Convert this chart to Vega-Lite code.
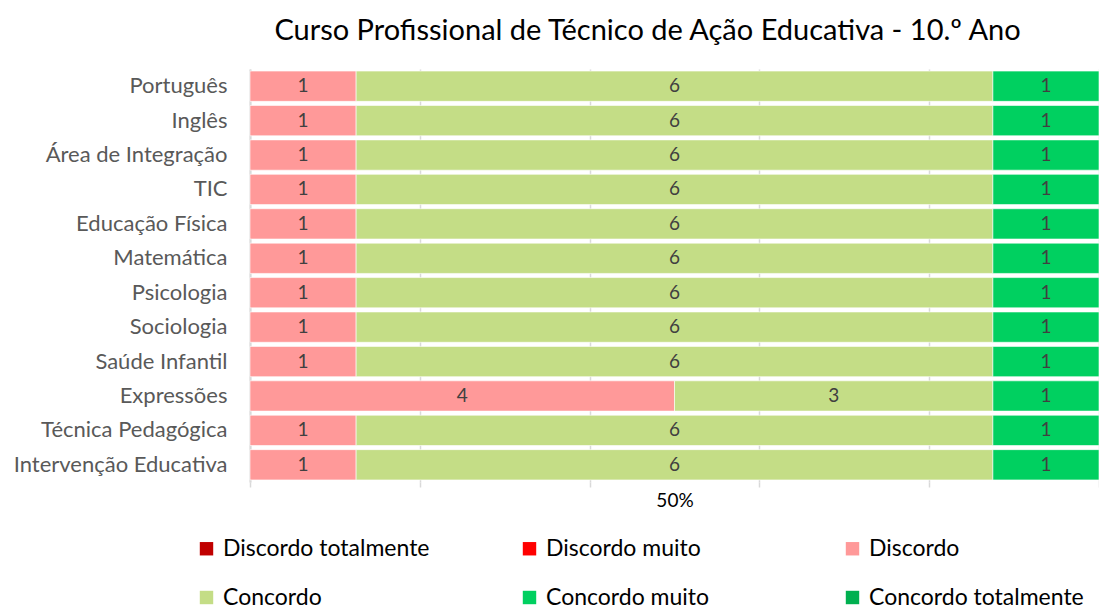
{
  "$schema": "https://vega.github.io/schema/vega-lite/v6.json",
  "autosize": {"type": "none"},
  "width": 849,
  "height": 413,
  "padding": {"left": 250, "top": 69, "right": 0, "bottom": 127},
  "background": "white",
  "config": {"font": "Lato", "view": {"stroke": null}},
  "title": {
    "text": "Curso Profissional de Técnico de Ação Educativa - 10.º Ano",
    "fontSize": 29,
    "fontWeight": "normal",
    "color": "#000000",
    "anchor": "middle",
    "dx": -27,
    "offset": 23
  },
  "data": {
    "values": [
      {"disciplina": "Português", "resposta": "Discordo", "nivel": 3, "n": 1},
      {"disciplina": "Português", "resposta": "Concordo", "nivel": 4, "n": 6},
      {"disciplina": "Português", "resposta": "Concordo muito", "nivel": 5, "n": 1},
      {"disciplina": "Inglês", "resposta": "Discordo", "nivel": 3, "n": 1},
      {"disciplina": "Inglês", "resposta": "Concordo", "nivel": 4, "n": 6},
      {"disciplina": "Inglês", "resposta": "Concordo muito", "nivel": 5, "n": 1},
      {"disciplina": "Área de Integração", "resposta": "Discordo", "nivel": 3, "n": 1},
      {"disciplina": "Área de Integração", "resposta": "Concordo", "nivel": 4, "n": 6},
      {"disciplina": "Área de Integração", "resposta": "Concordo muito", "nivel": 5, "n": 1},
      {"disciplina": "TIC", "resposta": "Discordo", "nivel": 3, "n": 1},
      {"disciplina": "TIC", "resposta": "Concordo", "nivel": 4, "n": 6},
      {"disciplina": "TIC", "resposta": "Concordo muito", "nivel": 5, "n": 1},
      {"disciplina": "Educação Física", "resposta": "Discordo", "nivel": 3, "n": 1},
      {"disciplina": "Educação Física", "resposta": "Concordo", "nivel": 4, "n": 6},
      {"disciplina": "Educação Física", "resposta": "Concordo muito", "nivel": 5, "n": 1},
      {"disciplina": "Matemática", "resposta": "Discordo", "nivel": 3, "n": 1},
      {"disciplina": "Matemática", "resposta": "Concordo", "nivel": 4, "n": 6},
      {"disciplina": "Matemática", "resposta": "Concordo muito", "nivel": 5, "n": 1},
      {"disciplina": "Psicologia", "resposta": "Discordo", "nivel": 3, "n": 1},
      {"disciplina": "Psicologia", "resposta": "Concordo", "nivel": 4, "n": 6},
      {"disciplina": "Psicologia", "resposta": "Concordo muito", "nivel": 5, "n": 1},
      {"disciplina": "Sociologia", "resposta": "Discordo", "nivel": 3, "n": 1},
      {"disciplina": "Sociologia", "resposta": "Concordo", "nivel": 4, "n": 6},
      {"disciplina": "Sociologia", "resposta": "Concordo muito", "nivel": 5, "n": 1},
      {"disciplina": "Saúde Infantil", "resposta": "Discordo", "nivel": 3, "n": 1},
      {"disciplina": "Saúde Infantil", "resposta": "Concordo", "nivel": 4, "n": 6},
      {"disciplina": "Saúde Infantil", "resposta": "Concordo muito", "nivel": 5, "n": 1},
      {"disciplina": "Expressões", "resposta": "Discordo", "nivel": 3, "n": 4},
      {"disciplina": "Expressões", "resposta": "Concordo", "nivel": 4, "n": 3},
      {"disciplina": "Expressões", "resposta": "Concordo muito", "nivel": 5, "n": 1},
      {"disciplina": "Técnica Pedagógica", "resposta": "Discordo", "nivel": 3, "n": 1},
      {"disciplina": "Técnica Pedagógica", "resposta": "Concordo", "nivel": 4, "n": 6},
      {"disciplina": "Técnica Pedagógica", "resposta": "Concordo muito", "nivel": 5, "n": 1},
      {"disciplina": "Intervenção Educativa", "resposta": "Discordo", "nivel": 3, "n": 1},
      {"disciplina": "Intervenção Educativa", "resposta": "Concordo", "nivel": 4, "n": 6},
      {"disciplina": "Intervenção Educativa", "resposta": "Concordo muito", "nivel": 5, "n": 1}
    ]
  },
  "encoding": {
    "y": {
      "field": "disciplina",
      "type": "nominal",
      "sort": null,
      "title": null,
      "scale": {"paddingInner": 0.12, "paddingOuter": 0.06},
      "axis": {
        "labelFontSize": 22,
        "labelColor": "#595959",
        "labelPadding": 23,
        "ticks": false,
        "domainColor": "#d9d9d9",
        "domainWidth": 2,
        "labelLimit": 400
      }
    }
  },
  "layer": [
    {
      "mark": {"type": "bar", "stroke": "#ffffff", "strokeWidth": 0.6},
      "encoding": {
        "x": {
          "field": "n",
          "type": "quantitative",
          "stack": "normalize",
          "title": null,
          "scale": {"domain": [0, 1], "nice": false},
          "axis": {
            "values": [0, 0.2, 0.4, 0.5, 0.6, 0.8, 1],
            "domain": false,
            "format": ".0%",
            "labelExpr": "datum.value == 0.5 ? '50%' : ''",
            "labelFontSize": 19,
            "labelColor": "#000000",
            "labelPadding": 4,
            "labelFlush": false,
            "labelOverlap": false,
            "gridColor": "#d9d9d9",
            "gridWidth": 1.5,
            "gridOpacity": {"condition": {"test": "datum.value == 0.5", "value": 0}, "value": 1},
            "tickColor": "#d9d9d9",
            "tickWidth": 1.5,
            "tickSize": 5,
            "tickOpacity": {"condition": {"test": "datum.value == 0.5", "value": 0}, "value": 1}
          }
        },
        "order": {"field": "nivel", "type": "quantitative", "sort": "ascending"},
        "color": {
          "field": "resposta",
          "type": "nominal",
          "scale": {
            "domain": ["Discordo totalmente", "Discordo muito", "Discordo", "Concordo", "Concordo muito", "Concordo totalmente"],
            "range": ["#C00000", "#FF0000", "#FF9999", "#C4DD86", "#00D060", "#00B050"]
          },
          "legend": {
            "title": null,
            "orient": "none",
            "legendX": -55,
            "legendY": 468,
            "direction": "horizontal",
            "columns": 3,
            "gridAlign": "all",
            "columnPadding": 80,
            "rowPadding": 25,
            "symbolType": "square",
            "symbolSize": 180,
            "symbolStrokeWidth": 0,
            "labelFontSize": 23,
            "labelColor": "#000000",
            "labelOffset": 5,
            "labelLimit": 400
          }
        }
      }
    },
    {
      "mark": {"type": "text", "fontSize": 19, "color": "#404040"},
      "encoding": {
        "x": {"field": "n", "type": "quantitative", "stack": "normalize", "bandPosition": 0.5},
        "detail": {"field": "resposta", "type": "nominal"},
        "order": {"field": "nivel", "type": "quantitative", "sort": "ascending"},
        "text": {"field": "n", "type": "quantitative"}
      }
    }
  ]
}
